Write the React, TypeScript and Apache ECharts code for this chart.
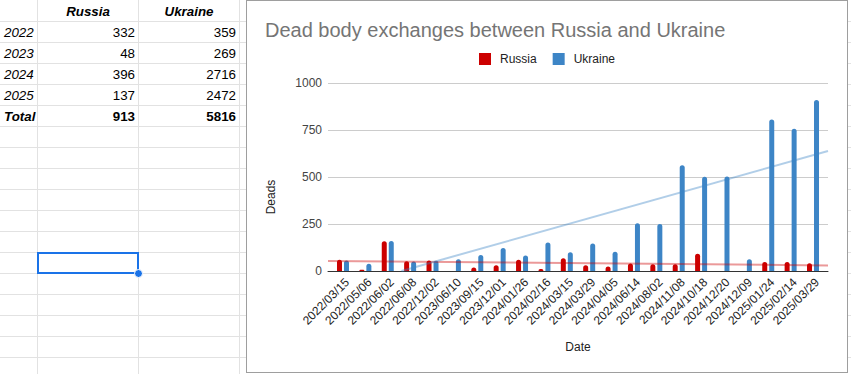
import React, { useEffect, useRef } from "react";
import * as echarts from "echarts";

const categories = [
  "2022/03/15", "2022/05/06", "2022/06/02", "2022/06/08", "2022/12/02",
  "2023/06/10", "2023/09/15", "2023/12/01", "2024/01/26", "2024/02/16",
  "2024/03/15", "2024/03/29", "2024/04/05", "2024/06/14", "2024/08/02",
  "2024/11/08", "2024/10/18", "2024/12/20", "2024/12/09", "2025/01/24",
  "2025/02/14", "2025/03/29",
];
const russia = [60, 6, 158, 52, 56, 0, 18, 30, 60, 10, 68, 30, 24, 40, 36, 36, 92, 0, 0, 48, 48, 41];
const ukraine = [56, 38, 160, 50, 55, 62, 85, 122, 82, 152, 100, 146, 102, 254, 250, 563, 501, 503, 63, 806, 757, 909];

const tableYears = ["2022", "2023", "2024", "2025"];
const tableRussia = [332, 48, 396, 137];
const tableUkraine = [359, 269, 2716, 2472];
const totalRussia = 913;
const totalUkraine = 5816;

const FONT = "Arial, 'Liberation Sans', sans-serif";

function linearFit(values: number[]) {
  const n = values.length;
  let sx = 0, sy = 0, sxy = 0, sxx = 0;
  values.forEach((y, i) => {
    sx += i; sy += y; sxy += i * y; sxx += i * i;
  });
  const b = (n * sxy - sx * sy) / (n * sxx - sx * sx);
  const a = (sy - b * sx) / n;
  return { a, b };
}

function trend(values: number[], x0: number, x1: number) {
  const { a, b } = linearFit(values);
  let start = x0;
  if (a + b * x0 < 0 && b !== 0) start = -a / b;
  let end = x1;
  if (a + b * x1 < 0 && b !== 0) end = -a / b;
  return [
    [start, a + b * start],
    [end, a + b * end],
  ];
}

const X_MIN = -0.67;
const X_MAX = 21.67;

function Chart() {
  const ref = useRef<HTMLDivElement>(null);
  useEffect(() => {
    if (!ref.current) return;
    const chart = echarts.init(ref.current, null, { renderer: "svg" });
    chart.setOption({
      animation: false,
      backgroundColor: "#ffffff",
      title: {
        text: "Dead body exchanges between Russia and Ukraine",
        left: 13,
        top: 14,
        textStyle: { fontFamily: FONT, fontSize: 20, fontWeight: "normal", color: "#757575" },
      },
      legend: {
        data: ["Russia", "Ukraine"],
        top: 47,
        left: "center",
        icon: "rect",
        itemWidth: 12,
        itemHeight: 12,
        itemGap: 16,
        textStyle: { fontFamily: FONT, fontSize: 12, color: "#222222", padding: [0, 0, 0, 4] },
      },
      grid: [
        { left: 84.8, right: 22.8, top: 82, bottom: 101 },
        { left: 81, right: 19, top: 82, bottom: 101 },
      ],
      xAxis: [
        {
          type: "category",
          gridIndex: 0,
          data: categories,
          axisLine: { show: false },
          axisTick: { show: false },
          axisLabel: {
            rotate: 45,
            interval: 0,
            fontSize: 12,
            color: "#222222",
            fontFamily: FONT,
            margin: 5,
            verticalAlign: "top",
          },
          name: "Date",
          nameLocation: "middle",
          nameGap: 70,
          nameTextStyle: { fontFamily: FONT, fontSize: 12, color: "#222222" },
        },
        {
          type: "value",
          gridIndex: 1,
          min: X_MIN,
          max: X_MAX,
          axisLine: { show: true, onZero: false, lineStyle: { color: "#333333", width: 1 } },
          axisTick: { show: false },
          axisLabel: { show: false },
          splitLine: { show: false },
        },
      ],
      yAxis: [
        { type: "value", gridIndex: 0, min: 0, max: 1000, interval: 250, show: false, splitLine: { show: false } },
        {
          type: "value",
          gridIndex: 1,
          min: 0,
          max: 1000,
          interval: 250,
          axisLine: { show: false },
          axisTick: { show: false },
          axisLabel: {
            fontSize: 12,
            color: "#444444",
            fontFamily: FONT,
            margin: 6,
            formatter: (v: number) => String(v),
          },
          splitLine: { lineStyle: { color: "#cccccc", width: 1 } },
        },
      ],
      graphic: [
        {
          type: "text",
          x: 23.5,
          y: 196,
          rotation: Math.PI / 2,
          style: {
            text: "Deads",
            fontFamily: FONT,
            fontSize: 12,
            fill: "#222222",
            align: "center",
            verticalAlign: "middle",
          },
        },
      ],
      series: [
        {
          name: "Russia",
          type: "bar",
          xAxisIndex: 0,
          yAxisIndex: 0,
          data: russia,
          barWidth: 5,
          barGap: "40%",
          itemStyle: { color: "#cc0000", borderRadius: [2.5, 2.5, 0, 0] },
        },
        {
          name: "Ukraine",
          type: "bar",
          xAxisIndex: 0,
          yAxisIndex: 0,
          data: ukraine,
          barWidth: 5,
          barGap: "40%",
          itemStyle: { color: "#3d85c6", borderRadius: [2.5, 2.5, 0, 0] },
        },
        {
          name: "Russia trend",
          type: "line",
          xAxisIndex: 1,
          yAxisIndex: 1,
          data: trend(russia, X_MIN, X_MAX),
          symbol: "none",
          silent: true,
          z: 3,
          lineStyle: { color: "rgba(204,0,0,0.4)", width: 2 },
        },
        {
          name: "Ukraine trend",
          type: "line",
          xAxisIndex: 1,
          yAxisIndex: 1,
          data: trend(ukraine, X_MIN, X_MAX),
          symbol: "none",
          silent: true,
          z: 3,
          lineStyle: { color: "rgba(61,133,198,0.4)", width: 2 },
        },
      ],
    });
    return () => chart.dispose();
  }, []);
  return <div ref={ref} style={{ width: 600, height: 371 }} />;
}

const ROW_H = 21;
const COLS = [0, 37, 138, 239];

export default function App() {
  const rows: React.ReactNode[] = [];
  for (let k = 1; k <= 17; k++) {
    rows.push(
      <div key={"h" + k} style={{ position: "absolute", left: 0, top: ROW_H * k, width: 851, height: 1, background: "#e2e2e2" }} />
    );
  }
  const vlines = COLS.slice(1).map((x) => (
    <div key={"v" + x} style={{ position: "absolute", left: x, top: 0, width: 1, height: 374, background: "#e2e2e2" }} />
  ));

  const cell = (
    key: string,
    r: number,
    c: number,
    text: string,
    align: "left" | "right" | "center",
    bold: boolean,
    italic: boolean
  ) => (
    <div
      key={key}
      style={{
        position: "absolute",
        left: COLS[c] + 1,
        top: ROW_H * r + 1,
        width: COLS[c + 1] - COLS[c] - 1,
        height: ROW_H,
        lineHeight: ROW_H + "px",
        fontSize: 13.33,
        fontFamily: FONT,
        fontWeight: bold ? "bold" : "normal",
        fontStyle: italic ? "italic" : "normal",
        textAlign: align,
        color: "#000",
        boxSizing: "border-box",
        paddingLeft: align === "left" ? 3 : 0,
        paddingRight: align === "right" ? 3 : 0,
        whiteSpace: "nowrap",
      }}
    >
      {text}
    </div>
  );

  const cells: React.ReactNode[] = [];
  cells.push(cell("hr", 0, 1, "Russia", "center", true, true));
  cells.push(cell("hu", 0, 2, "Ukraine", "center", true, true));
  tableYears.forEach((y, i) => {
    cells.push(cell("y" + i, i + 1, 0, y, "left", false, true));
    cells.push(cell("r" + i, i + 1, 1, String(tableRussia[i]), "right", false, false));
    cells.push(cell("u" + i, i + 1, 2, String(tableUkraine[i]), "right", false, false));
  });
  cells.push(cell("t", 5, 0, "Total", "left", true, true));
  cells.push(cell("tr", 5, 1, String(totalRussia), "right", true, false));
  cells.push(cell("tu", 5, 2, String(totalUkraine), "right", true, false));

  return (
    <div style={{ position: "absolute", left: 0, top: 0, width: 851, height: 374, overflow: "hidden", background: "#fff" }}>
      {rows}
      {vlines}
      {cells}
      <div
        style={{
          position: "absolute",
          left: 37,
          top: 252,
          width: 102,
          height: 22,
          border: "2px solid #1a73e8",
          boxSizing: "border-box",
        }}
      />
      <div
        style={{
          position: "absolute",
          left: 134,
          top: 269,
          width: 9,
          height: 9,
          borderRadius: "50%",
          background: "#1a73e8",
          border: "1px solid #ffffff",
          boxSizing: "border-box",
        }}
      />
      <div
        style={{
          position: "absolute",
          left: 246,
          top: 0,
          width: 602,
          height: 373,
          border: "1px solid #9e9e9e",
          boxSizing: "border-box",
          background: "#fff",
        }}
      >
        <Chart />
      </div>
    </div>
  );
}
